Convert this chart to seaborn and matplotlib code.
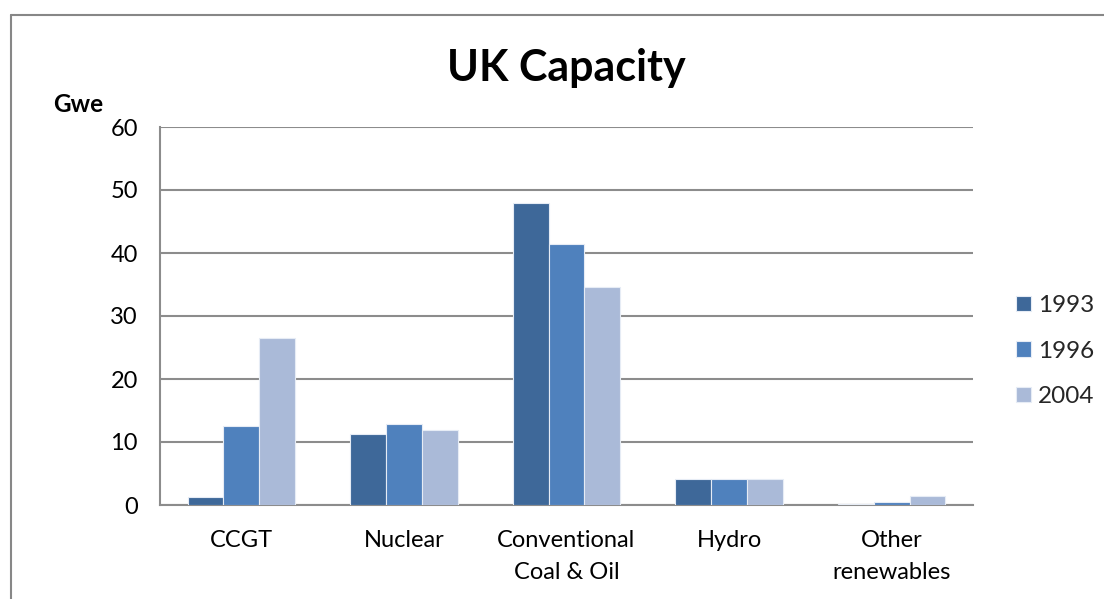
import matplotlib
matplotlib.use("Agg")
import matplotlib.pyplot as plt
from matplotlib.lines import Line2D
import seaborn as sns
import pandas as pd

# Installed generating capacity by technology (GWe)
categories = ["CCGT", "Nuclear", "Conventional\nCoal & Oil", "Hydro", "Other\nrenewables"]
years = ["1993", "1996", "2004"]
cap_1993 = [1.2, 11.3, 47.9, 4.2, 0.2]
cap_1996 = [12.6, 12.9, 41.5, 4.2, 0.4]
cap_2004 = [26.5, 11.9, 34.6, 4.2, 1.5]
yticks = [0, 10, 20, 30, 40, 50, 60]

df = pd.DataFrame({
    "category": categories * 3,
    "year": [y for y in years for _ in categories],
    "capacity": cap_1993 + cap_1996 + cap_2004,
})

sns.set_theme(style="white")
plt.rcParams["font.family"] = ["Lato", "DejaVu Sans"]

fig = plt.figure(figsize=(11.04, 5.99), dpi=100)
ax = fig.add_axes([160 / 1104, 1 - 505 / 599, (973 - 160) / 1104, (505 - 127) / 599])

palette = ["#3E6899", "#4F81BD", "#AABAD8"]
sns.barplot(data=df, x="category", y="capacity", hue="year", hue_order=years,
            order=categories, palette=palette, width=0.66, gap=0,
            edgecolor="#E6ECF5", linewidth=0.8, saturation=1, ax=ax, zorder=3)

ax.set_ylim(0, 60)
ax.set_yticks(yticks)
ax.set_xlim(-0.5, len(categories) - 0.5)
ax.yaxis.grid(True, color="#8C8C8C", linewidth=1.5, zorder=0)
ax.set_axisbelow(True)
for side in ["top", "right"]:
    ax.spines[side].set_visible(False)
for side in ["left", "bottom"]:
    ax.spines[side].set_color("#8C8C8C")
    ax.spines[side].set_linewidth(1.5)
ax.tick_params(axis="y", length=0, pad=16, labelsize=17, labelcolor="#000000")
ax.tick_params(axis="x", length=0, pad=18, labelsize=17, labelcolor="#000000")
for lbl in ax.get_xticklabels():
    lbl.set_linespacing(1.65)
ax.set_xlabel("")
ax.set_ylabel("")

fig.text(566 / 1104, 1 - 68 / 599, "UK Capacity", fontsize=31, fontweight="bold",
         ha="center", va="center", color="#000000")

fig.text(53 / 1104, 1 - 104 / 599, "Gwe", fontsize=17.5, fontweight="bold",
         ha="left", va="center", color="#000000")

handles, labels = ax.get_legend_handles_labels()
ax.legend(handles, labels, loc="center left", bbox_to_anchor=(1016 / 1104, 1 - 351 / 599),
          bbox_transform=fig.transFigure, frameon=False, fontsize=17.5,
          handlelength=0.6, handleheight=0.6, handletextpad=0.3,
          labelspacing=1.0, borderpad=0, borderaxespad=0)

# Chart-area frame
frame_color = "#878787"
fig.add_artist(Line2D([11 / 1104, 1.0], [1 - 15 / 599, 1 - 15 / 599],
                      transform=fig.transFigure, color=frame_color, linewidth=1.5))
fig.add_artist(Line2D([11 / 1104, 11 / 1104], [0.0, 1 - 15 / 599],
                      transform=fig.transFigure, color=frame_color, linewidth=1.5))

fig.savefig("out.png", dpi=100, facecolor="white")
